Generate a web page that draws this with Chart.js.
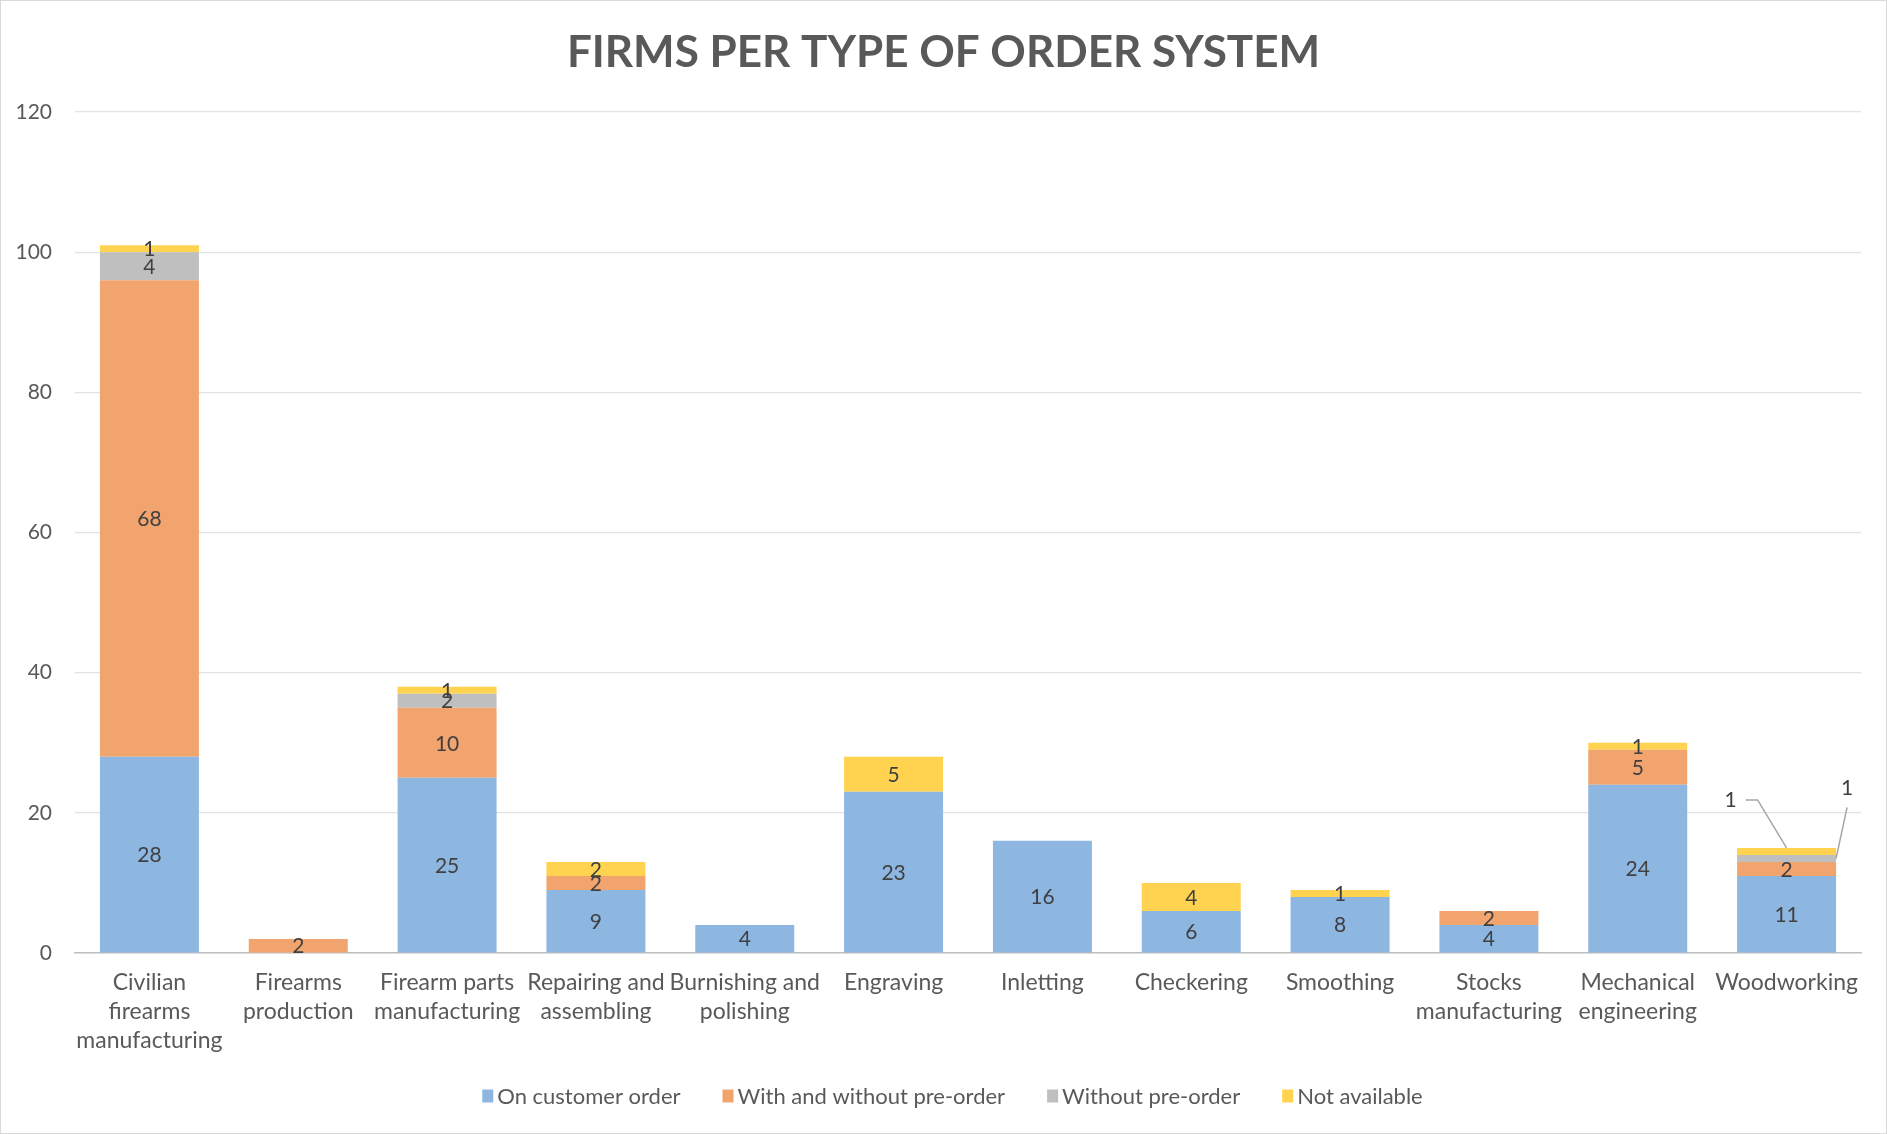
<!DOCTYPE html>
<html>
<head>
<meta charset="utf-8">
<script src="https://cdn.jsdelivr.net/npm/chart.js@4"></script>
<style>
  html, body { margin: 0; padding: 0; background: #fff; }
  #wrap { width: 1887px; height: 1134px; position: relative; }
</style>
</head>
<body>
<div id="wrap"><canvas id="c" width="1887" height="1134"></canvas></div>
<script>
const chartTitle = 'FIRMS PER TYPE OF ORDER SYSTEM';
const categories = [
  ['Civilian', 'firearms', 'manufacturing'],
  ['Firearms', 'production'],
  ['Firearm parts', 'manufacturing'],
  ['Repairing and', 'assembling'],
  ['Burnishing and', 'polishing'],
  ['Engraving'],
  ['Inletting'],
  ['Checkering'],
  ['Smoothing'],
  ['Stocks', 'manufacturing'],
  ['Mechanical', 'engineering'],
  ['Woodworking']
];
const seriesNames = ['On customer order', 'With and without pre-order', 'Without pre-order', 'Not available'];
const onCustomerOrder   = [28, 0, 25, 9, 4, 23, 16, 6, 8, 4, 24, 11];
const withAndWithout    = [68, 2, 10, 2, 0, 0, 0, 0, 0, 2, 5, 2];
const withoutPreOrder   = [4, 0, 2, 0, 0, 0, 0, 0, 0, 0, 0, 1];
const notAvailable      = [1, 0, 1, 2, 0, 5, 0, 4, 1, 0, 1, 1];
const yTicks = [0, 20, 40, 60, 80, 100, 120];
const seriesColors = ['#8DB6E1', '#F1A46E', '#BFBFBF', '#FFD34F'];
// labels drawn as callouts: category index -> {datasetIndex: side}
const callouts = { 11: { 2: 'right', 3: 'left' } };

const FONT = 'Lato, "Open Sans", sans-serif';

const labelPlugin = {
  id: 'labelsEtc',
  afterDatasetsDraw(chart) {
    const ctx = chart.ctx;
    ctx.save();
    ctx.font = '21px ' + FONT;
    ctx.fillStyle = '#404040';
    ctx.textAlign = 'center';
    ctx.textBaseline = 'middle';
    chart.data.datasets.forEach((ds, di) => {
      const meta = chart.getDatasetMeta(di);
      meta.data.forEach((bar, i) => {
        const v = ds.data[i];
        if (!v) return;
        const co = callouts[i] && callouts[i][di];
        const top = Math.min(bar.y, bar.base), bot = Math.max(bar.y, bar.base);
        if (co === 'left') {
          const lx = bar.x - 56, ly = top - 48;
          ctx.fillText(String(v), lx, ly);
          ctx.strokeStyle = '#A6A6A6'; ctx.lineWidth = 1.5;
          ctx.beginPath();
          ctx.moveTo(lx + 15, ly); ctx.lineTo(lx + 27, ly); ctx.lineTo(bar.x, top);
          ctx.stroke();
        } else if (co === 'right') {
          const rx = bar.x + bar.width / 2, my = (top + bot) / 2;
          const lx = rx + 11, ly = my - 70;
          ctx.fillText(String(v), lx, ly);
          ctx.strokeStyle = '#A6A6A6'; ctx.lineWidth = 1.5;
          ctx.beginPath();
          ctx.moveTo(lx, ly + 19); ctx.lineTo(rx, my);
          ctx.stroke();
        } else {
          ctx.fillText(String(v), bar.x, (top + bot) / 2 + 1);
        }
      });
    });
    ctx.restore();
  },
  afterDraw(chart) {
    const ctx = chart.ctx;
    const W = chart.width, H = chart.height;
    ctx.save();
    // border
    ctx.strokeStyle = '#D9D9D9'; ctx.lineWidth = 1;
    ctx.strokeRect(0.5, 0.5, W - 1, H - 1);
    // title
    ctx.font = 'bold 44px ' + FONT;
    ctx.fillStyle = '#595959';
    ctx.textAlign = 'center';
    ctx.textBaseline = 'middle';
    ctx.fillText(chartTitle, W / 2, 53);
    // legend
    ctx.font = '22px ' + FONT;
    ctx.textAlign = 'left';
    const boxW = 11, boxH = 13, gapBox = 4, gapItem = 42;
    const items = chart.data.datasets.map(d => ({ t: d.label, c: d.backgroundColor, w: ctx.measureText(d.label).width }));
    let total = items.reduce((s, it) => s + boxW + gapBox + it.w, 0) + gapItem * (items.length - 1);
    let x = W / 2 + 9 - total / 2;
    const ly = 1096;
    items.forEach(it => {
      ctx.fillStyle = it.c;
      ctx.fillRect(x, ly - boxH / 2, boxW, boxH);
      x += boxW + gapBox;
      ctx.fillStyle = '#595959';
      ctx.fillText(it.t, x, ly + 1);
      x += it.w + gapItem;
    });
    ctx.restore();
  }
};

const dataArrays = [onCustomerOrder, withAndWithout, withoutPreOrder, notAvailable];
new Chart(document.getElementById('c'), {
  type: 'bar',
  data: {
    labels: categories,
    datasets: dataArrays.map((arr, k) => ({
      label: seriesNames[k],
      data: arr,
      backgroundColor: seriesColors[k],
      borderWidth: 0,
      categoryPercentage: 1.0,
      barPercentage: 0.665
    }))
  },
  options: {
    responsive: false,
    animation: false,
    devicePixelRatio: 1,
    layout: { padding: { top: 112, left: 0, right: 26, bottom: 0 } },
    plugins: {
      legend: { display: false },
      title: { display: false },
      tooltip: { enabled: false }
    },
    scales: {
      x: {
        stacked: true,
        grid: { display: false, drawTicks: false },
        border: { display: true, color: '#BFBFBF', width: 1.5 },
        ticks: {
          color: '#595959',
          font: { family: FONT, size: 23, lineHeight: 1.26 },
          padding: 15,
          maxRotation: 0,
          autoSkip: false
        },
        afterFit(scale) { scale.height = 1134 - 953; }
      },
      y: {
        stacked: true,
        min: 0, max: 120,
        afterBuildTicks(scale) { scale.ticks = yTicks.map(v => ({ value: v })); },
        grid: { color: 'rgba(0,0,0,0.11)', lineWidth: 1.2, drawTicks: false },
        border: { display: false },
        z: 1,
        ticks: {
          color: '#595959',
          font: { family: FONT, size: 21 },
          padding: 23
        },
        afterFit(scale) { scale.width = 75; }
      }
    }
  },
  plugins: [labelPlugin]
});
</script>
</body>
</html>
